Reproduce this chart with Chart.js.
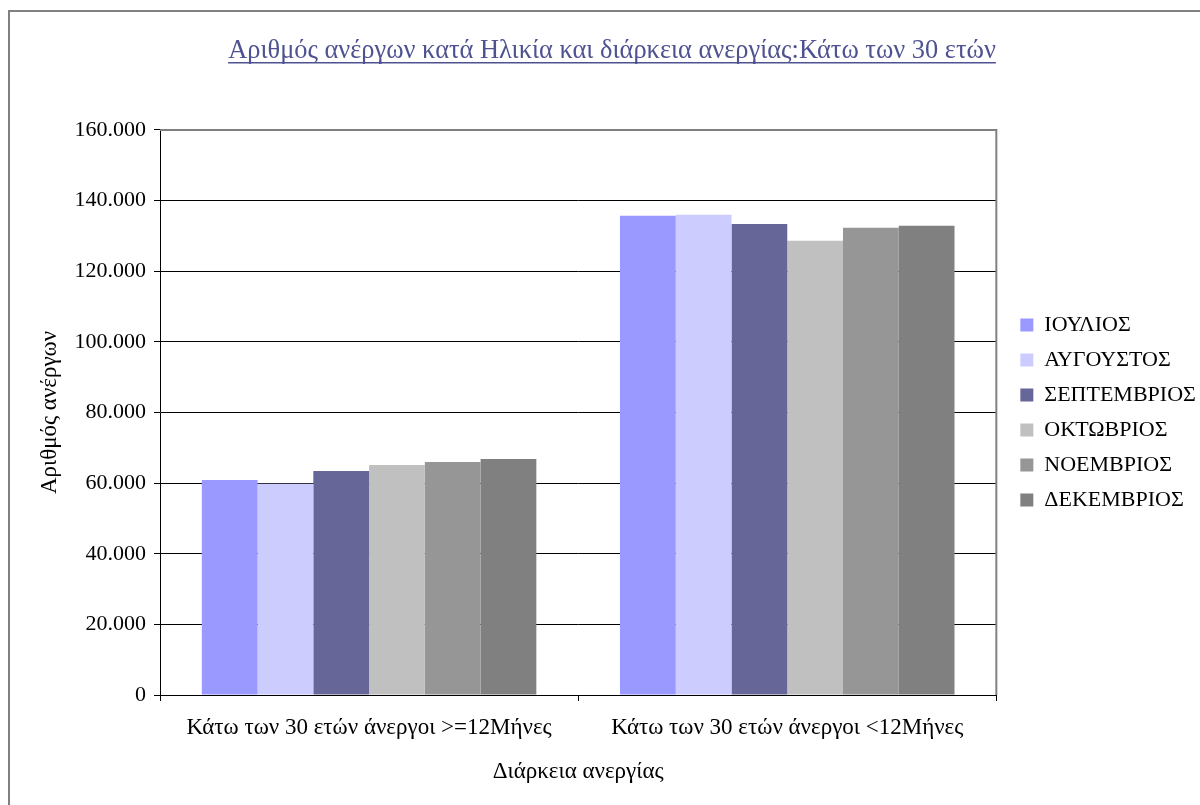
<!DOCTYPE html>
<html>
<head>
<meta charset="utf-8">
<script src="https://cdn.jsdelivr.net/npm/chart.js@4"></script>
<style>
  html, body { margin: 0; padding: 0; background: #fff; }
  #wrap { width: 1200px; height: 805px; }
</style>
</head>
<body>
<div id="wrap"><canvas id="chart" width="1200" height="805"></canvas></div>
<script>
const categories = ['Κάτω των 30 ετών άνεργοι >=12Μήνες', 'Κάτω των 30 ετών άνεργοι <12Μήνες'];
const months = ['ΙΟΥΛΙΟΣ', 'ΑΥΓΟΥΣΤΟΣ', 'ΣΕΠΤΕΜΒΡΙΟΣ', 'ΟΚΤΩΒΡΙΟΣ', 'ΝΟΕΜΒΡΙΟΣ', 'ΔΕΚΕΜΒΡΙΟΣ'];
const julyVals = [60900, 135700];
const augVals = [59800, 136000];
const sepVals = [63400, 133400];
const octVals = [65100, 128600];
const novVals = [66000, 132300];
const decVals = [66800, 132900];
const monthColors = ['#9999FF', '#CCCCFF', '#666699', '#C0C0C0', '#969696', '#808080'];
const yTicks = [0, 20000, 40000, 60000, 80000, 100000, 120000, 140000, 160000];

const FONT = 'Liberation Serif';

const seriesVals = [julyVals, augVals, sepVals, octVals, novVals, decVals];
const datasets = months.map((m, i) => ({
  label: m,
  data: seriesVals[i],
  backgroundColor: monthColors[i],
  borderWidth: 0,
  categoryPercentage: 0.8,
  barPercentage: 1.0
}));

function fmt(v) {
  return String(v).replace(/\B(?=(\d{3})+(?!\d))/g, '.');
}

// outer frame, grey plot border, title underline
const decor = {
  id: 'decor',
  beforeDraw(chart) {
    const c = chart.ctx;
    c.save();
    c.strokeStyle = '#808080';
    c.lineWidth = 2;
    c.strokeRect(9, 11, 1300, 900);
    c.restore();
  },
  afterDatasetsDraw(chart) {
    const c = chart.ctx, a = chart.chartArea;
    c.save();
    c.strokeStyle = '#808080';
    c.lineWidth = 2;
    c.beginPath();
    c.moveTo(a.left, a.top);
    c.lineTo(a.right, a.top);
    c.lineTo(a.right, a.bottom);
    c.stroke();
    c.restore();
  },
  afterDraw(chart) {
    const t = chart.titleBlock;
    if (!t) return;
    const c = chart.ctx;
    const o = chart.options.plugins.title;
    c.save();
    c.font = o.font.size + 'px "' + FONT + '"';
    const w = c.measureText(o.text).width;
    const cx = (t.left + t.right) / 2;
    const y = t.top + o.padding.top + o.font.size * 1.2 / 2 + o.font.size * 0.45;
    c.strokeStyle = o.color;
    c.lineWidth = 1.5;
    c.beginPath();
    c.moveTo(cx - w / 2, y);
    c.lineTo(cx + w / 2, y);
    c.stroke();
    c.restore();
  }
};

new Chart(document.getElementById('chart'), {
  type: 'bar',
  data: { labels: categories, datasets: datasets },
  plugins: [decor],
  options: {
    responsive: false,
    animation: false,
    layout: { padding: { left: 19, right: -5, top: 0, bottom: 0 } },
    plugins: {
      tooltip: { enabled: false },
      title: {
        display: true,
        text: 'Αριθμός ανέργων κατά Ηλικία και διάρκεια ανεργίας:Κάτω των 30 ετών',
        color: '#4E5290',
        font: { family: FONT, size: 26.4, weight: 'normal' },
        padding: { top: 35, bottom: 63.3 }
      },
      legend: {
        position: 'right',
        fullSize: false,
        align: 'center',
        labels: {
          color: '#000',
          font: { family: FONT, size: 22 },
          boxWidth: 13,
          boxHeight: 13,
          padding: 13
        }
      }
    },
    scales: {
      x: {
        afterFit(s) { s.height = 110; },
        grid: { drawOnChartArea: false, offset: true, tickLength: 6, color: '#000' },
        border: { color: '#000', width: 1 },
        ticks: { color: '#000', font: { family: FONT, size: 23 }, padding: 13, maxRotation: 0 },
        title: {
          display: true,
          text: 'Διάρκεια ανεργίας',
          color: '#000',
          font: { family: FONT, size: 23 },
          padding: { top: 0, bottom: 19 }
        }
      },
      y: {
        min: 0,
        max: 160000,
        afterFit(s) { s.width = 141; },
        afterBuildTicks(s) { s.ticks = yTicks.map(v => ({ value: v })); },
        grid: { color: '#000', tickLength: 6, tickColor: '#000' },
        border: { color: '#000', width: 1 },
        ticks: { color: '#000', font: { family: FONT, size: 22 }, padding: 8, callback: v => fmt(v) },
        title: {
          display: true,
          text: 'Αριθμός ανέργων',
          color: '#000',
          font: { family: FONT, size: 23 },
          padding: { top: 17, bottom: 0 }
        }
      },
      gap: {
        type: 'linear',
        position: 'right',
        display: true,
        afterFit(s) { s.width = 11; },
        grid: { display: false },
        border: { display: false },
        ticks: { display: false }
      }
    }
  }
});
</script>
</body>
</html>
